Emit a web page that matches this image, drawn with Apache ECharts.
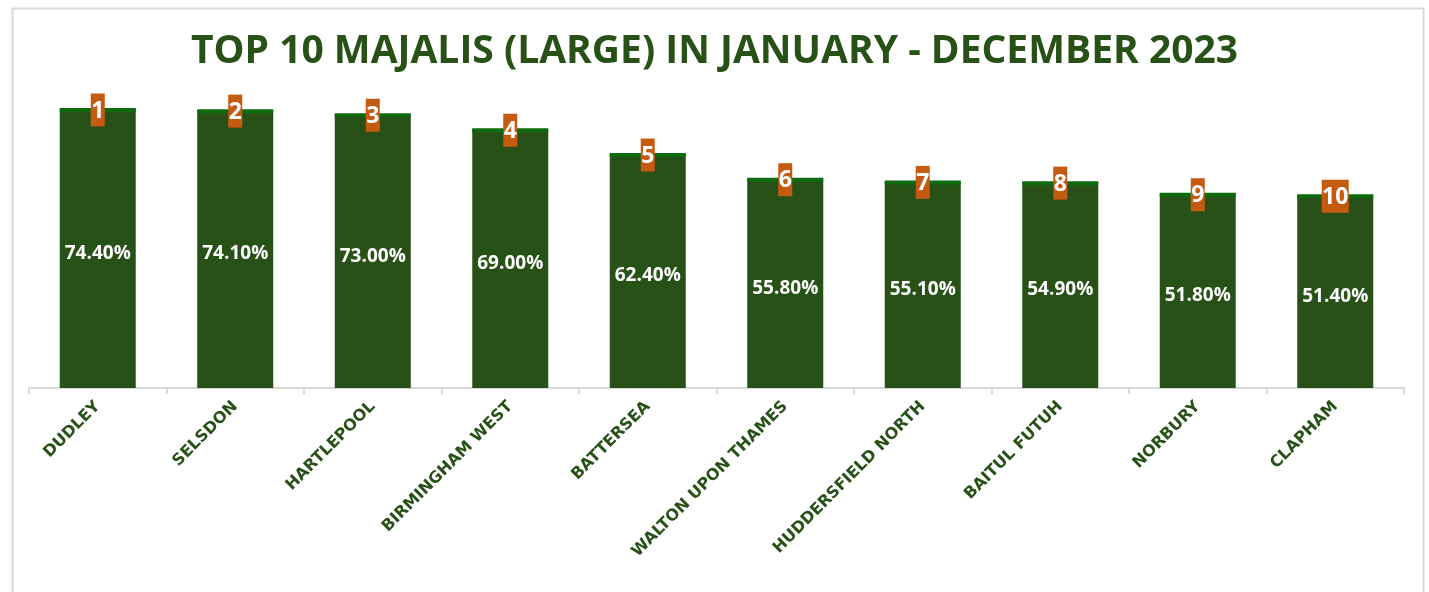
<!DOCTYPE html>
<html>
<head>
<meta charset="utf-8">
<script src="https://cdn.jsdelivr.net/npm/echarts@6/dist/echarts.min.js"></script>
<style>html,body{margin:0;padding:0;background:#fff}#c{width:1429px;height:592px}</style>
</head>
<body>
<div id="c"></div>
<script>
const categories = ['DUDLEY','SELSDON','HARTLEPOOL','BIRMINGHAM WEST','BATTERSEA','WALTON UPON THAMES','HUDDERSFIELD NORTH','BAITUL FUTUH','NORBURY','CLAPHAM'];
const values = [74.4, 74.1, 73.0, 69.0, 62.4, 55.8, 55.1, 54.9, 51.8, 51.4];
const ranks = [1, 2, 3, 4, 5, 6, 7, 8, 9, 10];
const titleText = 'TOP 10 MAJALIS (LARGE) IN JANUARY - DECEMBER 2023';

const green = '#285117';
const chart = echarts.init(document.getElementById('c'));
chart.setOption({
  animation: false,
  backgroundColor: '#fff',
  title: {
    text: titleText, left: 'center', top: 27,
    textStyle: { fontFamily: 'Open Sans', fontWeight: 'bold', fontSize: 39, color: green }
  },
  graphic: [{
    type: 'rect', left: 10, top: 6, silent: true,
    shape: { width: 1411, height: 700 },
    style: { fill: 'none', stroke: '#d9d9d9', lineWidth: 2 }
  }],
  grid: { left: 29, right: 25, top: 88, bottom: 204 },
  xAxis: {
    type: 'category', data: categories,
    axisLine: { lineStyle: { color: '#d9d9d9', width: 2 } },
    axisTick: { show: true, length: 6, lineStyle: { color: '#d9d9d9', width: 2 } },
    axisLabel: {
      interval: 0, rotate: 45, margin: 16, color: green,
      fontFamily: 'DejaVu Sans', fontWeight: 'bold', fontSize: 16
    }
  },
  yAxis: { type: 'value', min: 0, max: 80, show: false, splitLine: { show: false } },
  series: [
    {
      type: 'bar', data: values, barWidth: 76,
      itemStyle: { color: green },
      label: {
        show: true, position: 'inside', color: '#fff', offset: [0, 5],
        fontFamily: 'Open Sans', fontWeight: 'bold', fontSize: 19,
        formatter: p => p.value.toFixed(2) + '%'
      },
      z: 2
    },
    {
      type: 'scatter', data: values, symbol: 'rect', symbolSize: [76, 4],
      symbolOffset: [0, 1], itemStyle: { color: '#0d6a0d', opacity: 1 }, z: 3, silent: true
    },
    {
      type: 'scatter',
      data: values.map((v, i) => ({ value: v, rank: ranks[i], symbolSize: ranks[i] >= 10 ? [27, 33] : [14, 33] })),
      symbol: 'rect', symbolOffset: [0, 1],
      itemStyle: { color: '#c55a11', opacity: 1 }, z: 4,
      label: {
        show: true, position: 'inside', color: '#fff', offset: [0, 1],
        fontFamily: 'Open Sans', fontWeight: 'bold', fontSize: 23,
        formatter: p => String(p.data.rank)
      }
    }
  ]
});
</script>
</body>
</html>
